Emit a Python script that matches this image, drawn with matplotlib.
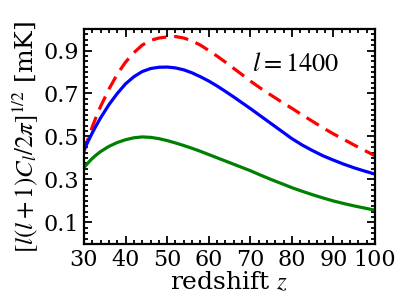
import numpy as np
import matplotlib
matplotlib.use("Agg")
import matplotlib.pyplot as plt
from matplotlib.ticker import MultipleLocator

# redshift samples and read-off amplitudes [mK]
z_red = [30, 31, 32, 33, 34, 36, 38, 40, 42, 44, 46, 48, 50, 52, 54, 56, 58, 60, 62, 64,
         66, 68, 70, 72.5, 75, 77.5, 80, 82.5, 85, 87.5, 90, 92.5, 95, 97.5, 100]
amp_red = [0.43, 0.49, 0.545, 0.595, 0.64, 0.72, 0.79, 0.846, 0.89, 0.925, 0.947, 0.958,
           0.963, 0.965, 0.958, 0.945, 0.925, 0.9, 0.874, 0.846, 0.817, 0.788, 0.758,
           0.724, 0.692, 0.661, 0.631, 0.6, 0.57, 0.54, 0.512, 0.486, 0.46, 0.435, 0.41]

z_blue = [30, 31, 32, 33, 34, 36, 38, 40, 42, 44, 46, 48, 50, 52, 54, 56, 58, 60, 62, 64,
          66, 68, 70, 72.5, 75, 77.5, 80, 82.5, 85, 87.5, 90, 92.5, 95, 97.5, 100]
amp_blue = [0.437, 0.478, 0.517, 0.553, 0.587, 0.648, 0.70, 0.745, 0.778, 0.802, 0.816,
            0.822, 0.823, 0.819, 0.81, 0.796, 0.778, 0.758, 0.735, 0.71, 0.684, 0.657,
            0.63, 0.595, 0.56, 0.525, 0.49, 0.46, 0.434, 0.41, 0.39, 0.371, 0.354, 0.339, 0.325]

z_green = [30, 31, 32, 33, 34, 36, 38, 40, 42, 44, 46, 48, 50, 52, 54, 56, 58, 60, 62, 64,
           66, 68, 70, 72.5, 75, 77.5, 80, 82.5, 85, 87.5, 90, 92.5, 95, 97.5, 100]
amp_green = [0.355, 0.378, 0.398, 0.415, 0.43, 0.454, 0.472, 0.485, 0.494, 0.498, 0.496,
             0.49, 0.481, 0.47, 0.458, 0.445, 0.431, 0.416, 0.401, 0.386, 0.371, 0.356,
             0.341, 0.32, 0.3, 0.281, 0.262, 0.245, 0.229, 0.214, 0.2, 0.188, 0.177, 0.167, 0.157]

plt.rcParams["font.family"] = "DejaVu Serif"
plt.rcParams["mathtext.fontset"] = "stix"

fig = plt.figure(figsize=(3.99, 2.99), dpi=100)
ax = fig.add_axes([0.2105, 0.184, 0.7295, 0.719])

ax.plot(z_red, amp_red, color="red", lw=2.3, dashes=(4.5, 2.5))
ax.plot(z_blue, amp_blue, color="blue", lw=2.3)
ax.plot(z_green, amp_green, color="green", lw=2.3)

ax.text(70.5, 0.84, r"$l=1400$", fontsize=19, va="center", ha="left")

ax.set_xlim(30, 100)
ax.set_ylim(0.0, 1.0)
ax.xaxis.set_major_locator(MultipleLocator(10))
ax.xaxis.set_minor_locator(MultipleLocator(2))
ax.set_yticks([0.1, 0.3, 0.5, 0.7, 0.9])
ax.yaxis.set_minor_locator(MultipleLocator(0.025))
ax.tick_params(which="both", direction="in", top=True, right=True, width=1.3)
ax.tick_params(which="major", length=6, labelsize=16)
ax.tick_params(which="minor", length=3)
for s in ax.spines.values():
    s.set_linewidth(1.6)

ax.set_xlabel(r"redshift $z$", fontsize=18, labelpad=0)
ax.set_ylabel(r"$[l(l+1)C_l/2\pi]^{1/2}$ [mK]", fontsize=18, labelpad=2)

fig.savefig("out.png", dpi=100)
